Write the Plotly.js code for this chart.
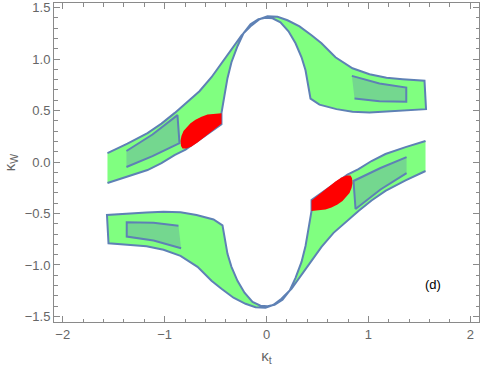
<!DOCTYPE html>
<html>
<head>
<meta charset="utf-8">
<script src="https://cdn.plot.ly/plotly-3.0.1.min.js"></script>
<style>
  html, body { margin: 0; padding: 0; background: #fff; }
  #chart { width: 480px; height: 372px; }
</style>
</head>
<body>
<div id="chart"></div>
<script>
// allowed region, upper branch (left band + right band joined at the peak)
const bandUpX = [-1.561,-1.365,-1.168,-1.031,-0.903,-0.776,-0.658,-0.540,-0.442,-0.344,-0.245,-0.147,-0.069,0.010,0.108,0.206,0.324,0.442,0.540,0.677,0.844,1.011,1.178,1.335,1.551,1.566,1.335,1.178,1.011,0.844,0.687,0.520,0.432,0.412,0.383,0.344,0.285,0.216,0.137,0.059,-0.010,-0.079,-0.157,-0.226,-0.285,-0.344,-0.383,-0.412,-0.432,-0.442,-0.442,-0.540,-0.658,-0.795,-0.903,-1.031,-1.168,-1.365,-1.561];
const bandUpY = [0.087,0.179,0.281,0.373,0.475,0.582,0.688,0.824,0.960,1.105,1.231,1.328,1.387,1.416,1.411,1.377,1.318,1.231,1.154,1.018,0.911,0.853,0.819,0.805,0.790,0.514,0.504,0.490,0.482,0.488,0.514,0.558,0.616,0.747,0.892,1.018,1.154,1.270,1.358,1.396,1.401,1.387,1.338,1.251,1.125,0.970,0.815,0.650,0.543,0.475,0.368,0.301,0.223,0.121,0.068,-0.010,-0.078,-0.145,-0.204];

// allowed region, lower branch
const bandLoX = [1.561,1.365,1.168,1.031,0.903,0.776,0.658,0.540,0.442,0.344,0.245,0.147,0.069,-0.010,-0.108,-0.206,-0.324,-0.442,-0.540,-0.677,-0.844,-1.011,-1.178,-1.335,-1.551,-1.566,-1.335,-1.178,-1.011,-0.844,-0.687,-0.520,-0.432,-0.412,-0.383,-0.344,-0.285,-0.216,-0.137,-0.059,0.010,0.079,0.157,0.226,0.285,0.344,0.383,0.412,0.432,0.442,0.442,0.540,0.658,0.795,0.903,1.031,1.168,1.365,1.561];
const bandLoY = [-0.087,-0.179,-0.281,-0.373,-0.475,-0.582,-0.688,-0.824,-0.960,-1.105,-1.231,-1.328,-1.387,-1.416,-1.411,-1.377,-1.318,-1.231,-1.154,-1.018,-0.911,-0.853,-0.819,-0.805,-0.790,-0.514,-0.504,-0.490,-0.482,-0.488,-0.514,-0.558,-0.616,-0.747,-0.892,-1.018,-1.154,-1.270,-1.358,-1.396,-1.401,-1.387,-1.338,-1.251,-1.125,-0.970,-0.815,-0.650,-0.543,-0.475,-0.368,-0.301,-0.223,-0.121,-0.068,0.010,0.078,0.145,0.204];

// inner (darker) regions
const quadULX = [-1.375,-1.119,-0.874,-0.854,-1.119,-1.375];
const quadULY = [0.107,0.267,0.456,0.184,0.058,-0.048];
const quadURX = [0.838,1.109,1.372,1.372,1.109,0.864];
const quadURY = [0.837,0.763,0.724,0.585,0.591,0.618];
const quadLRX = [1.375,1.119,0.874,0.854,1.119,1.375];
const quadLRY = [-0.107,-0.267,-0.456,-0.184,-0.058,0.048];
const quadLLX = [-0.838,-1.109,-1.372,-1.372,-1.109,-0.864];
const quadLLY = [-0.837,-0.763,-0.724,-0.585,-0.591,-0.618];

// red spots
const redUpX = [-0.442,-0.520,-0.579,-0.638,-0.697,-0.746,-0.785,-0.815,-0.835,-0.844,-0.839,-0.825,-0.785,-0.736,-0.677,-0.609,-0.540,-0.481,-0.442];
const redUpY = [0.475,0.470,0.461,0.441,0.412,0.378,0.339,0.301,0.252,0.204,0.155,0.131,0.131,0.150,0.189,0.242,0.291,0.339,0.373];
const redLoX = [0.442,0.520,0.579,0.638,0.697,0.746,0.785,0.815,0.835,0.844,0.839,0.825,0.785,0.736,0.677,0.609,0.540,0.481,0.442];
const redLoY = [-0.475,-0.470,-0.461,-0.441,-0.412,-0.378,-0.339,-0.301,-0.252,-0.204,-0.155,-0.131,-0.131,-0.150,-0.189,-0.242,-0.291,-0.339,-0.373];

const xTicks = [-2, -1, 0, 1, 2];
const yTicks = [-1.5, -1.0, -0.5, 0.0, 0.5, 1.0, 1.5];

const edge = '#5e81b5';
const axisGray = '#8a8a8a';
const textGray = '#666666';

function region(x, y, fill) {
    return {
        x: x, y: y, type: 'scatter', mode: 'lines', fill: 'toself',
        fillcolor: fill, line: { color: edge, width: 2 },
        hoverinfo: 'skip', showlegend: false
    };
}

function spot(x, y) {
    return {
        x: x, y: y, type: 'scatter', mode: 'lines', fill: 'toself',
        fillcolor: '#ff0000', line: { width: 0, color: '#ff0000' },
        hoverinfo: 'skip', showlegend: false
    };
}

const traces = [
    region(bandUpX, bandUpY, '#80ff80'),
    region(bandLoX, bandLoY, '#80ff80'),
    region(quadULX, quadULY, '#74d78f'),
    region(quadURX, quadURY, '#74d78f'),
    region(quadLRX, quadLRY, '#74d78f'),
    region(quadLLX, quadLLY, '#74d78f'),
    spot(redUpX, redUpY),
    spot(redLoX, redLoY)
];

const tickFont = { family: 'Liberation Sans, Arial, sans-serif', size: 13, color: textGray };

const layout = {
    width: 480, height: 372,
    margin: { l: 54, r: 1, t: 3, b: 50 },
    paper_bgcolor: '#fff', plot_bgcolor: '#fff',
    xaxis: {
        range: [-2.086, 2.086], tickvals: xTicks, ticktext: ['\u22122', '\u22121', '0', '1', '2'],
        ticks: 'inside', ticklen: 6, tickcolor: axisGray,
        showline: true, linecolor: axisGray, linewidth: 1, mirror: 'allticks',
        zeroline: false, showgrid: false,
        minor: { dtick: 0.2, tick0: 0, ticks: 'inside', ticklen: 3.5, tickcolor: axisGray, showgrid: false },
        tickfont: tickFont,
        title: { text: '\u03ba<sub>t</sub>', font: { family: 'Liberation Sans, Arial, sans-serif', size: 15, color: textGray }, standoff: 9 },
        automargin: false
    },
    yaxis: {
        range: [-1.554, 1.545], tickvals: yTicks, tickformat: '.1f',
        ticks: 'inside', ticklen: 6, tickcolor: axisGray,
        showline: true, linecolor: axisGray, linewidth: 1, mirror: 'allticks',
        zeroline: false, showgrid: false,
        minor: { dtick: 0.1, tick0: 0, ticks: 'inside', ticklen: 3.5, tickcolor: axisGray, showgrid: false },
        tickfont: tickFont,
        title: { text: '\u03ba<sub>W</sub>', font: { family: 'Liberation Sans, Arial, sans-serif', size: 15, color: textGray }, standoff: 5 },
        automargin: false
    },
    annotations: [{
        x: 1.63, y: -1.19, xref: 'x', yref: 'y', text: '(d)', showarrow: false,
        font: { family: 'Liberation Sans, Arial, sans-serif', size: 13, color: '#000' }
    }]
};

Plotly.newPlot('chart', traces, layout, { displayModeBar: false, staticPlot: true });
</script>
</body>
</html>
